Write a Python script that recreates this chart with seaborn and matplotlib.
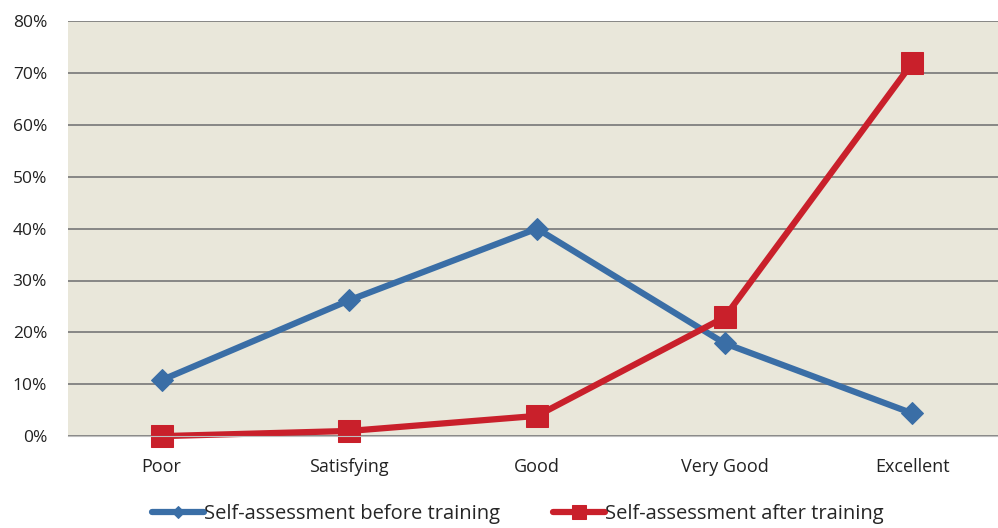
import pandas as pd
import matplotlib.pyplot as plt
import seaborn as sns
from matplotlib.ticker import PercentFormatter

categories = ['Poor', 'Satisfying', 'Good', 'Very Good', 'Excellent']
before = [10.8, 26.2, 40.0, 17.9, 4.4]
after = [0.0, 1.0, 3.9, 22.9, 71.9]
series_names = ['Self-assessment before training', 'Self-assessment after training']

df = pd.DataFrame({
    'category': categories * 2,
    'pos': list(range(len(categories))) * 2,
    'value': before + after,
    'series': [series_names[0]] * 5 + [series_names[1]] * 5,
})

sns.set_style('white')
plt.rcParams['font.family'] = ['Open Sans', 'DejaVu Sans']

fig = plt.figure(figsize=(9.98, 5.28), dpi=100)
ax = fig.add_axes([0.068, 0.174, 0.94, 0.786])
ax.set_facecolor('#E9E7DA')

palette = {series_names[0]: '#3A6EA6', series_names[1]: '#C9202B'}
markers = {series_names[0]: 'D', series_names[1]: 's'}
sizes = {series_names[0]: 11, series_names[1]: 16}

for name in series_names:
    sub = df[df['series'] == name]
    sns.lineplot(data=sub, x='pos', y='value', ax=ax, color=palette[name],
                 marker=markers[name], markersize=sizes[name], linewidth=4.5,
                 markeredgecolor=palette[name], label=name, clip_on=False,
                 legend=False)

ax.set_xlim(-0.5, 4.5)
ax.set_ylim(0, 80)
ax.set_yticks(range(0, 81, 10))
ax.yaxis.set_major_formatter(PercentFormatter(decimals=0))
ax.set_xticks(range(len(categories)))
ax.set_xticklabels(categories)
ax.set_xlabel('')
ax.set_ylabel('')
ax.grid(axis='y', color='#7F7F7F', linewidth=1.3)
ax.set_axisbelow(True)
for s in ['left', 'right', 'top']:
    ax.spines[s].set_visible(False)
ax.spines['bottom'].set_color('#BFBFBF')
ax.tick_params(axis='y', length=0, pad=15, labelsize=12.5, colors='#222222')
ax.tick_params(axis='x', length=0, pad=16, labelsize=13, colors='#222222')

handles, labels = ax.get_legend_handles_labels()
fig.legend(handles, labels, loc='center', bbox_to_anchor=(0.519, 0.026), ncol=2,
           frameon=False, fontsize=14.5, handlelength=2.6, handletextpad=0.0,
           columnspacing=2.6, markerscale=0.6, borderpad=0.1)

fig.savefig('out.png', dpi=100)
